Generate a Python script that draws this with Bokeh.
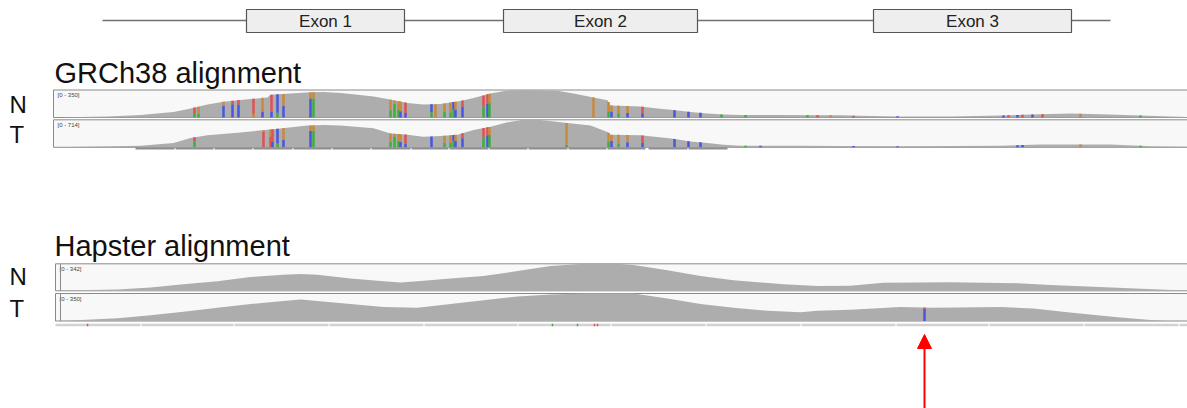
import numpy as np
from bokeh.plotting import figure
from bokeh.models import Range1d, Arrow, NormalHead
from bokeh.core.properties import value
from bokeh.embed import file_html
from bokeh.resources import INLINE

# ---- gene model (x in track coordinate units) ----
exon_names = ["Exon 1", "Exon 2", "Exon 3"]
exon_start = [246, 503, 873]
exon_end = [404, 697, 1071]
gene_start, gene_end = 102, 1110

# ---- coverage profiles ----
grch_n_max = 350
grch_n_x = [53, 107, 140, 173, 188, 207, 223, 240, 267, 270, 290, 310, 323, 340, 357, 373, 387,
            407, 423, 440, 460, 473, 490, 507, 523, 540, 557, 573, 593, 607, 610, 640, 657, 673,
            690, 707, 723, 740, 773, 840, 870, 900, 950, 1000, 1040, 1070, 1100, 1140, 1170, 1195]
grch_n_depth = [0, 14, 32, 70, 108, 165, 200, 224, 256, 290, 305, 322, 326, 312, 290, 266, 234,
                186, 165, 172, 210, 248, 305, 345, 350, 348, 340, 305, 256, 220, 154, 140, 116, 95,
                70, 52, 38, 32, 32, 28, 18, 14, 14, 24, 42, 52, 42, 24, 14, 4]

grch_t_max = 714
grch_t_x = [53, 140, 173, 190, 207, 240, 273, 307, 323, 340, 373, 390, 407, 423, 440, 457, 473,
            490, 507, 523, 540, 567, 590, 607, 610, 640, 673, 690, 707, 723, 740, 800, 840, 900,
            1000, 1040, 1110, 1150, 1195]
grch_t_depth = [0, 43, 114, 243, 314, 386, 471, 564, 578, 564, 493, 357, 328, 271, 293, 328, 450,
                535, 650, 714, 707, 628, 564, 400, 328, 314, 221, 150, 114, 64, 43, 43, 36, 29,
                43, 71, 71, 29, 7]

hap_n_max = 342
hap_n_x = [60, 63, 117, 150, 183, 217, 250, 283, 300, 317, 350, 383, 400, 417, 450, 483, 517, 550,
           583, 617, 633, 667, 700, 733, 783, 817, 850, 883, 950, 1017, 1050, 1117, 1183, 1195]
hap_n_depth = [0, 3, 17, 41, 82, 120, 174, 202, 212, 202, 157, 120, 106, 120, 157, 188, 250, 315,
               342, 342, 328, 260, 188, 133, 82, 62, 65, 103, 109, 96, 75, 38, 3, 2]

hap_t_max = 350
hap_t_x = [60, 117, 150, 183, 217, 250, 283, 300, 317, 350, 383, 417, 450, 483, 517, 550, 583, 633,
           667, 700, 733, 767, 800, 817, 850, 900, 933, 1000, 1033, 1067, 1117, 1150, 1167, 1195]
hap_t_depth = [0, 35, 74, 119, 168, 217, 256, 273, 256, 217, 179, 168, 217, 263, 312, 336, 350, 350,
               287, 217, 168, 130, 112, 130, 144, 179, 168, 179, 158, 112, 49, 14, 0, 0]

# ---- mismatched bases: position, lower base, lower fraction, upper base ----
grch_n_var_pos = [194, 198, 223, 232, 238, 253, 262, 271, 277, 283, 310, 313, 390, 394, 398, 400,
                  405, 431, 435, 444, 450, 453, 455, 462, 483, 487, 489, 593, 608, 611, 618, 627,
                  642, 674, 688, 700, 721, 745, 807, 817, 830, 853, 897, 1003, 1008, 1017, 1022,
                  1032, 1042, 1080, 1140]
grch_n_var_lo = ["A", "A", "C", "C", "C", "G", "C", "C", "A", "C", "C", "A", "A", "A", "A", "C",
                 "C", "A", "G", "A", "A", "A", "C", "C", "A", "C", "A", "G", "A", "C", "A", "C",
                 "C", "C", "C", "C", "A", "A", "A", "T", "G", "C", "C", "C", "T", "C", "T",
                 "C", "T", "G", "A"]
grch_n_var_frac = [.45, .35, .75, .8, .75, .2, .3, .25, .2, .5, .75, .75, .4, .8, .5, .4,
                   .3, .4, 1, .4, .35, .5, .5, .65, .5, .6, .6, 1, .4, .5, .3, .4,
                   .4, 1, 1, 1, 1, 1, 1, 1, 1, .5, 1, 1, 1, 1, 1,
                   1, 1, 1, 1]
grch_n_var_hi = ["T", "G", "G", "T", "T", "T", "G", "T", "C", "G", "G", "G", "G", "G", "G", "G",
                 "T", "C", "G", "G", "G", "C", "G", "T", "T", "T", "G", "G", "G", "G", "G", "G",
                 "T", "C", "C", "C", "A", "A", "A", "T", "G", "T", "C", "C", "T", "C", "T",
                 "C", "T", "G", "A"]

grch_t_var_pos = [194, 263, 270, 272, 277, 283, 310, 313, 390, 394, 398, 400, 405, 431, 444, 450,
                  453, 455, 462, 483, 487, 489, 566, 608, 611, 618, 627, 642, 674, 688, 700, 745,
                  760, 853, 897, 1017, 1022, 1080, 1140]
grch_t_var_lo = ["A", "T", "T", "C", "A", "C", "C", "A", "A", "A", "A", "C", "C", "C", "A", "A",
                 "A", "C", "C", "A", "C", "A", "A", "A", "C", "A", "C", "C", "C", "C", "C", "A",
                 "C", "C", "C", "C", "C", "G", "A"]
grch_t_var_frac = [.6, .9, .6, .3, .2, .4, .75, .75, .4, .8, .5, .4, .3, 1, .4, .35,
                   .5, .5, .65, .5, .6, .6, .1, .4, .5, .3, .4, .4, 1, 1, 1, 1,
                   1, 1, 1, 1, 1, 1, 1]
grch_t_var_hi = ["T", "G", "G", "T", "C", "G", "G", "G", "G", "G", "G", "G", "T", "C", "G", "G",
                 "C", "G", "T", "T", "T", "G", "G", "G", "G", "G", "G", "T", "C", "C", "C", "A",
                 "C", "C", "C", "C", "C", "G", "A"]

hap_t_var_pos = [924]
hap_t_var_lo = ["C"]
hap_t_var_frac = [0.9]
hap_t_var_hi = ["T"]

# reads track breaks below the tumour tracks
grch_read_start = [135, 175, 214, 253, 293, 332, 371, 411, 449, 489, 528, 568, 607, 648, 688]
grch_read_end = [174, 213, 252, 292, 331, 370, 410, 448, 488, 527, 567, 606, 645, 687, 727]
hap_read_start = [55, 141, 234, 329, 424, 518, 611, 706, 801, 896, 989, 1084, 1179]
hap_read_end = [140, 233, 328, 423, 517, 610, 705, 800, 895, 988, 1083, 1178, 1195]
hap_read_var_pos = [87, 552, 577, 594, 597]
hap_read_var_base = ["T", "A", "A", "T", "T"]

base_color = {"A": "#3fae3f", "C": "#4a55e0", "G": "#c98a3c", "T": "#e05252"}

W, H = 1187, 408
FONT = value("Liberation Sans")

p = figure(width=W, height=H, x_range=Range1d(0, W), y_range=Range1d(H, 0),
           output_backend="svg", toolbar_location=None, min_border=0)
p.axis.visible = False
p.grid.visible = False
p.outline_line_color = None
p.background_fill_color = "white"

# ---- gene model ----
p.segment(x0=[gene_start], y0=[20], x1=[gene_end], y1=[20], line_color="#707070", line_width=1.3)
p.quad(left=exon_start, right=exon_end, top=[9] * 3, bottom=[32] * 3,
       fill_color="#eeeeee", line_color="#555555", line_width=1.2)
p.text(x=[(a + b) / 2 for a, b in zip(exon_start, exon_end)], y=[21] * 3, text=exon_names,
       text_font=FONT, text_font_size="17px", text_align="center", text_baseline="middle",
       text_color="#222222")

# ---- section titles and sample labels ----
p.text(x=[54, 54], y=[72.5, 245.5], text=["GRCh38 alignment", "Hapster alignment"], text_font=FONT,
       text_font_size="29px", text_baseline="middle", text_color="#111111")
p.text(x=[9, 9, 9, 9], y=[104, 134, 276, 308], text=["N", "T", "N", "T"], text_font=FONT,
       text_font_size="24px", text_baseline="middle", text_color="#111111")


def track(name, left, top, bottom, xs, depth, vmax, label, var=None):
    span = vmax * H / (bottom - top)
    start = -span * (H - bottom) / H
    p.extra_y_ranges[name] = Range1d(start, start + span)
    p.quad(left=[left], right=[1195], top=[top], bottom=[bottom], fill_color="#f8f8f8",
           line_color="#8a8a8a", line_width=1)
    p.varea(x=xs, y1=0, y2=depth, fill_color="#adadad", y_range_name=name)
    if var is not None:
        pos, lo, frac, hi = var
        cov = np.interp(pos, xs, depth)
        split = cov * np.array(frac)
        p.vbar(x=pos, width=2.5, bottom=0, top=split, fill_color=[base_color[b] for b in lo],
               line_color=None, y_range_name=name)
        p.vbar(x=pos, width=2.5, bottom=split, top=cov, fill_color=[base_color[b] for b in hi],
               line_color=None, y_range_name=name)
    p.text(x=[left + 4], y=[top + 2], text=[label], text_font=FONT, text_font_size="6px",
           text_baseline="top", text_color="#444444")


track("gn", 53, 89.5, 117, grch_n_x, grch_n_depth, grch_n_max, "[0 - 350]",
      (grch_n_var_pos, grch_n_var_lo, grch_n_var_frac, grch_n_var_hi))
track("gt", 53, 119.3, 146.8, grch_t_x, grch_t_depth, grch_t_max, "[0 - 714]",
      (grch_t_var_pos, grch_t_var_lo, grch_t_var_frac, grch_t_var_hi))
p.segment(x0=grch_read_start, y0=[148] * len(grch_read_start), x1=grch_read_end,
          y1=[148] * len(grch_read_end), line_color="#8e8e8e", line_width=2)

track("hn", 55, 263.3, 290.3, hap_n_x, hap_n_depth, hap_n_max, "[0 - 342]")
track("ht", 55, 293, 320.5, hap_t_x, hap_t_depth, hap_t_max, "[0 - 350]",
      (hap_t_var_pos, hap_t_var_lo, hap_t_var_frac, hap_t_var_hi))
p.segment(x0=[60, 60], y0=[263.3, 293], x1=[60, 60], y1=[290.3, 320.5], line_color="#8a8a8a",
          line_width=1)
p.segment(x0=hap_read_start, y0=[324.5] * len(hap_read_start), x1=hap_read_end,
          y1=[324.5] * len(hap_read_end), line_color="#d2d2d2", line_width=2.5)
p.vbar(x=hap_read_var_pos, width=1.5, bottom=323.3, top=325.7,
       fill_color=[base_color[b] for b in hap_read_var_base], line_color=None)

# ---- arrow marking the tumour-specific variant ----
p.add_layout(Arrow(end=NormalHead(size=14, fill_color="red", line_color="red"),
                   x_start=hap_t_var_pos[0], y_start=408, x_end=hap_t_var_pos[0], y_end=334,
                   line_color="red", line_width=2))

open("out.html", "w").write(file_html(p, INLINE))
